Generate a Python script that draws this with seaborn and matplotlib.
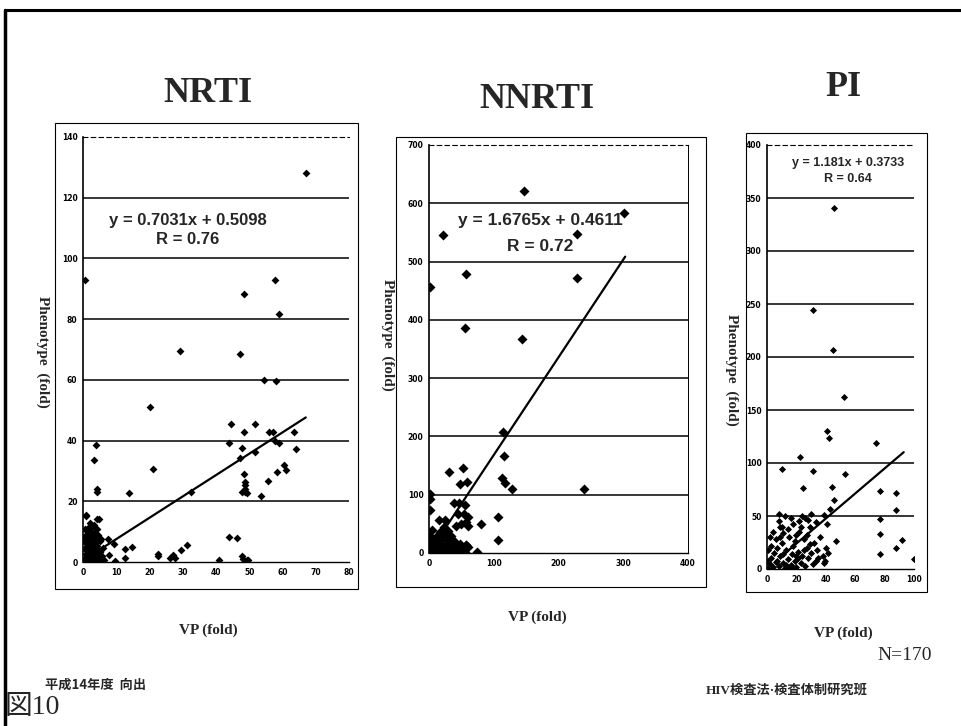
import matplotlib
matplotlib.use("Agg")
import matplotlib.pyplot as plt
import seaborn as sns
import pandas as pd
from matplotlib.lines import Line2D
from matplotlib.patches import Rectangle

W, H = 962, 726

# ---- data ----
nrti_x = [67, 0.7, 57.7, 48.4, 59, 29.2, 47.2, 54.4, 58, 20, 44.6, 51.7, 48.4, 55.9, 57.2, 63.5,
          44, 57.7, 59, 47.7, 64, 4, 3.2, 47.2, 51.7, 60.4, 61.2, 58.2, 21, 48.4, 55.7,
          48.7, 48.7, 48.7, 48.7, 47.7, 49.2, 53.5, 4.2, 4.2, 13.7, 32.4, 1.0, 4.2,
          7.5, 9.2, 7.7, 6.2, 12.7, 14.7, 12.5, 22.7, 22.7, 26.2, 27.2, 27.7, 29.4, 31.2,
          44, 46.2, 47.7, 48.2, 49.2, 49.7, 41, 9.7,
          0.4, 0.6, 0.8, 1.0, 1.1, 1.3, 1.5, 1.6, 1.8, 2.0, 2.1, 2.2, 2.4, 2.5, 2.6, 2.8, 2.9,
          3.0, 3.1, 3.3, 3.4, 3.5, 3.6, 3.8, 3.9, 4.0, 4.1, 4.3, 4.4, 4.6, 4.8, 5.0, 5.2, 5.4,
          0.5, 0.7, 0.9, 1.2, 1.4, 1.7, 1.9, 2.3, 2.7, 3.2, 3.7, 4.2, 4.5, 4.7, 1.0, 0.3, 0.6,
          2.0, 5.5, 5.6, 6.0, 3.0, 4.9, 1.6, 2.3, 3.5]
nrti_y = [128, 93, 93, 88.4, 81.6, 69.4, 68.4, 59.8, 59.6, 51, 45.6, 45.3, 42.8, 42.8, 42.8, 42.8,
          39.2, 39.9, 39.2, 37.7, 37.3, 38.4, 33.7, 34.4, 36.1, 31.8, 30.2, 29.6, 30.7, 29.1, 26.7,
          26.4, 25.3, 24.2, 23.1, 23.1, 22.7, 21.6, 24.2, 23.1, 22.7, 23.1, 15.4, 14.3,
          7.7, 6.0, 2.4, 0.5, 4.4, 4.9, 1.4, 2.7, 1.9, 1.4, 2.2, 1.4, 4.1, 5.5,
          8.2, 7.9, 1.9, 1.1, 0.8, 0.5, 0.5, 0.2,
          0.3, 1.2, 2.5, 0.5, 3.8, 5.2, 1.6, 7.0, 2.9, 0.8, 4.5, 6.3, 8.1, 1.9, 3.4, 5.8, 0.4,
          7.4, 2.2, 4.9, 9.6, 1.1, 6.1, 3.0, 10.8, 0.6, 5.3, 2.6, 7.6, 4.0, 1.4, 6.8, 3.3, 0.9,
          4.2, 6.5, 8.9, 10.3, 0.2, 11.4, 9.2, 10.0, 11.9, 12.3, 8.4, 11.0, 9.0, 14.1, 15.3, 7.8, 10.9,
          13.0, 7.5, 2.0, 4.5, 0.2, 0.3, 0.9, 2.7, 5.6]

nnrti_x = [147, 21.5, 228, 301.5, 1, 57, 228, 56, 144, 114.5, 116.5, 30.7, 52, 48, 58, 113, 117,
           128, 240, 1, 1, 1, 39, 47, 56, 44.5, 54.7, 60, 80, 106, 15, 24, 42, 50, 57, 61,
           106, 74, 57, 51, 21.5, 26.5, 31.7,
           1, 2, 3, 4, 5, 6, 8, 9, 10, 12, 13, 14, 15, 16, 18, 20, 21, 22, 24, 26, 27, 28, 30,
           31, 33, 35, 37, 38, 40, 42, 44, 46, 48, 50, 52, 55, 57, 60, 0.5, 2, 4, 6, 11, 17,
           23, 19, 29, 34, 0, 1]
nnrti_y = [621, 545, 547, 584, 457, 478, 472, 386, 368, 208, 166, 139, 146, 119, 122, 128, 120,
           110, 110, 102, 93, 73, 86, 85, 82, 67.5, 67.5, 62, 50, 62, 56, 57, 47, 50, 53, 47,
           23, 2, 13, 2, 34, 25, 16,
           2, 8, 15, 4, 22, 10, 3, 18, 6, 12, 1, 25, 8, 4, 15, 2, 34, 10, 6, 25, 14, 3, 8,
           16, 1, 10, 4, 20, 6, 12, 2, 8, 15, 3, 6, 2, 13, 10, 0.5, 30, 40, 1, 28, 36,
           45, 22, 38, 30, 12, 20]

pi_x = [45.5, 31, 44.8, 52.5, 40.5, 42, 74, 22.3, 10, 31, 53, 24.5, 44.5, 77, 87.7, 45.5,
        87.7, 43, 8.2, 39, 77, 40.5, 77, 91.6, 47, 87.7, 40, 41.6, 77, 100, 39.3, 38.6, 9,
        1, 2, 3, 4, 5, 6, 7, 8, 9, 10, 11, 12, 13, 14, 15, 16, 17, 18, 19, 20, 21, 22, 23,
        24, 25, 26, 27, 28, 29, 30, 31, 32, 33, 34, 2, 4, 6, 8, 10, 12, 14, 16, 18, 20, 22,
        24, 26, 28, 30, 3, 7, 9, 11, 13, 17, 19, 21, 23, 25, 27, 29, 1, 0.5, 15, 20, 33,
        35, 36, 38, 11]
pi_y = [341, 244, 207, 162, 130, 124, 119, 106, 94, 92, 90, 76, 77, 74, 72, 65,
        56, 57, 52, 51, 47.4, 42, 33, 27, 26, 20, 20, 15, 14.5, 9, 8, 6, 40,
        1, 5, 10, 2, 15, 7, 20, 3, 12, 25, 6, 1, 18, 9, 30, 4, 14, 22, 8, 2, 16, 35, 6,
        12, 28, 3, 20, 10, 40, 15, 5, 25, 8, 18, 30, 35, 28, 45, 40, 50, 38, 48, 42, 32, 45,
        50, 48, 46, 52, 22, 8, 30, 34, 4, 2, 26, 10, 40, 18, 32, 24, 18, 8, 1, 12, 44,
        10, 30, 12, 14]

titles = ["NRTI", "NNRTI", "PI"]
slopes = [0.7031, 1.6765, 1.181]
intercepts = [0.5098, 0.4611, 0.3733]
r_values = [0.76, 0.72, 0.64]
fit_x = [[5, 67], [8, 303], [12, 93]]
y_ticks = [list(range(0, 141, 20)), list(range(0, 701, 100)), list(range(0, 401, 50))]
x_ticks = [list(range(0, 81, 10)), list(range(0, 401, 100)), list(range(0, 101, 20))]

sns.set_style("white")
plt.rcParams["font.family"] = ["Liberation Serif", "Noto Sans CJK JP", "DejaVu Sans"]

fig = plt.figure(figsize=(W / 100, H / 100), dpi=100)


def fx(x):
    return x / W


def fy(y):
    return 1 - y / H


# outer page frame
fig.add_artist(Line2D([fx(5), 1], [fy(10), fy(10)], color="black", lw=2.2))
fig.add_artist(Line2D([fx(5), fx(5)], [fy(10), 0], color="black", lw=2.5))

# chart area boxes
boxes = [(55, 123, 358, 589), (396, 137, 706, 587), (746, 133, 927, 592)]
for x0, y0, x1, y1 in boxes:
    fig.add_artist(Rectangle((fx(x0), fy(y1)), fx(x1 - x0), (y1 - y0) / H,
                             fill=False, ec="black", lw=0.8))

# plot areas in pixels: left, top, right, bottom
areas = [(83, 137, 349, 562), (429, 145, 688, 553), (767, 145, 914, 569)]
xs = [nrti_x, nnrti_x, pi_x]
ys = [nrti_y, nnrti_y, pi_y]
sizes = [16, 26, 13]

for i, (l, t, r, b) in enumerate(areas):
    ax = fig.add_axes([fx(l), fy(b), (r - l) / W, (b - t) / H])
    df = pd.DataFrame({"vp": xs[i], "pheno": ys[i]})
    sns.scatterplot(data=df, x="vp", y="pheno", ax=ax, marker="D", s=sizes[i],
                    color="black", edgecolor="black", linewidth=0, zorder=3)
    line_x = fit_x[i]
    line_y = [slopes[i] * v + intercepts[i] for v in line_x]
    ax.plot(line_x, line_y, color="black", lw=1.6, zorder=4)
    ax.set_xlim(x_ticks[i][0], x_ticks[i][-1])
    ax.set_ylim(y_ticks[i][0], y_ticks[i][-1])
    ax.set_xticks(x_ticks[i])
    ax.set_yticks(y_ticks[i])
    for v in y_ticks[i][1:-1]:
        ax.axhline(v, color="black", lw=1.1, zorder=1)
    ax.set_xlabel("")
    ax.set_ylabel("")
    ax.tick_params(labelsize=5.5, length=2.5, direction="in", pad=4, colors="black")
    for lab in ax.get_xticklabels() + ax.get_yticklabels():
        lab.set_fontweight("bold")
        lab.set_family("DejaVu Sans")
    ax.spines["left"].set_color("black")
    ax.spines["left"].set_linewidth(1.2)
    ax.spines["bottom"].set_color("black")
    ax.spines["bottom"].set_linewidth(1.0)
    ax.spines["top"].set_linestyle((0, (4, 3)))
    ax.spines["top"].set_linewidth(0.8)
    ax.spines["top"].set_color("black")
    ax.spines["right"].set_visible(i == 1)
    ax.spines["right"].set_linewidth(0.7)
    ax.spines["right"].set_color("black")
    ax.set_facecolor("white")

title_pos = [(208, 93), (537, 100), (843, 88)]
for (x, y), t in zip(title_pos, titles):
    fig.text(fx(x), fy(y), t, ha="center", va="center", fontsize=26,
             fontweight="bold", family="Liberation Serif")

eq_pos = [(188, 221, 240), (540, 221, 247), (848, 163, 179)]
eq_size = [12, 12.5, 9]
for i, (x, y1, y2) in enumerate(eq_pos):
    fig.text(fx(x), fy(y1), f"y = {slopes[i]}x + {intercepts[i]}", ha="center", va="center",
             fontsize=eq_size[i], fontweight="bold",
             family=["Liberation Sans Narrow", "Liberation Sans"])
    fig.text(fx(x), fy(y2), f"R = {r_values[i]:.2f}", ha="center", va="center",
             fontsize=eq_size[i], fontweight="bold",
             family=["Liberation Sans Narrow", "Liberation Sans"])

ylab_pos = [(43, 352), (388, 335), (732, 370)]
for x, y in ylab_pos:
    fig.text(fx(x), fy(y), "Phenotype  (fold)", ha="center", va="center", rotation=-90,
             fontsize=11, fontweight="bold", family="Liberation Serif")

xlab_pos = [(208, 630), (537, 617), (843, 633)]
for x, y in xlab_pos:
    fig.text(fx(x), fy(y), "VP (fold)", ha="center", va="center",
             fontsize=11, fontweight="bold", family="Liberation Serif")

fig.text(fx(932), fy(655), "N=170", ha="right", va="center", fontsize=14,
         family="Liberation Serif")
fig.text(fx(45), fy(685), "平成14年度  向出", ha="left", va="center", fontsize=9.5,
         fontweight="bold", family=["Noto Sans CJK JP", "DejaVu Sans"])
fig.text(fx(706), fy(690), "HIV検査法·検査体制研究班", ha="left", va="center", fontsize=9.5,
         fontweight="bold", family=["Liberation Serif", "Noto Sans CJK JP"])
fig.text(fx(5), fy(708), "図10", ha="left", va="center", fontsize=20,
         family=["Liberation Serif", "Noto Sans CJK JP"])

fig.savefig("out.png", dpi=100, facecolor="white")
